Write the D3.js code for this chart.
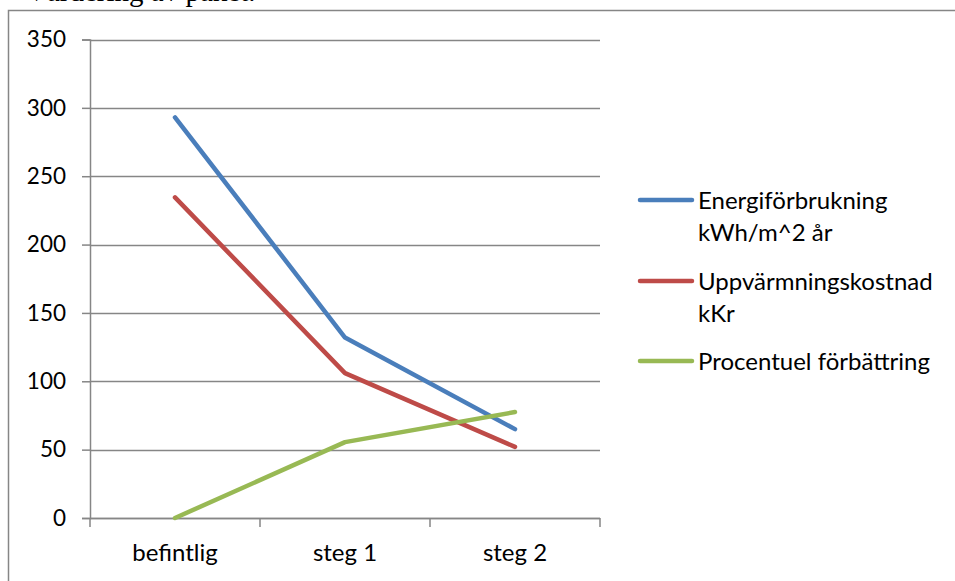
<!DOCTYPE html>
<html>
<head>
<meta charset="utf-8">
<script src="https://cdn.jsdelivr.net/npm/d3@7"></script>
<style>
  html, body { margin: 0; padding: 0; background: #fff; }
  svg { display: block; }
  text { font-family: Lato, "Open Sans", sans-serif; fill: #000; }
</style>
</head>
<body>
<svg id="chart" width="955" height="581"></svg>
<script>
// Stages of the renovation package
const categories = ["befintlig", "steg 1", "steg 2"];

// Series values per stage
const energiValues = [293, 132, 65];
const kostnadValues = [234.5, 106, 52];
const procentValues = [0, 55.5, 77.5];

// Legend labels (wrapped as in the chart)
const seriesNames = [
  ["Energiförbrukning", "kWh/m^2 år"],
  ["Uppvärmningskostnad", "kKr"],
  ["Procentuel förbättring"]
];
const seriesColors = ["#4a7ebb", "#be4b48", "#98b954"];

// Value axis ticks
const yTicks = [0, 50, 100, 150, 200, 250, 300, 350];

const series = [energiValues, kostnadValues, procentValues];

const svg = d3.select("#chart");
const gridColor = "#868686";

// Heading of the surrounding document, mostly clipped at the top edge
svg.append("text")
  .attr("x", 26)
  .attr("y", 1)
  .style("font-family", "'Liberation Serif', 'DejaVu Serif', serif")
  .style("font-size", "29px")
  .text("Värdering av paket.");

// Chart frame (left and top edges)
svg.append("path")
  .attr("d", "M8.5,581 V10.5 H955")
  .attr("fill", "none")
  .attr("stroke", gridColor)
  .attr("stroke-width", 1.5);

const plot = { left: 90, right: 600, top: 39.5, bottom: 518 };

const x = d3.scaleBand()
  .domain(categories)
  .range([plot.left, plot.right])
  .paddingInner(0)
  .paddingOuter(0);

const y = d3.scaleLinear()
  .domain([0, 350])
  .range([plot.bottom, plot.top]);

// Horizontal gridlines
svg.append("g")
  .selectAll("line")
  .data(yTicks)
  .join("line")
  .attr("x1", plot.left)
  .attr("x2", plot.right)
  .attr("y1", d => Math.round(y(d)) + 0.5)
  .attr("y2", d => Math.round(y(d)) + 0.5)
  .attr("stroke", gridColor)
  .attr("stroke-width", 1.5);

// Value axis
const yAxis = svg.append("g")
  .attr("transform", `translate(${plot.left},0)`)
  .call(d3.axisLeft(y).tickValues(yTicks).tickSize(8).tickPadding(16).tickFormat(d3.format("d")));
yAxis.select(".domain").attr("stroke", gridColor).attr("stroke-width", 1.5);
yAxis.selectAll(".tick line").attr("stroke", gridColor).attr("stroke-width", 1.5);
yAxis.selectAll(".tick text")
  .style("font-family", "Lato, 'Open Sans', sans-serif")
  .style("font-size", "22.5px")
  .attr("fill", "#000");

// Category axis with tick marks at band edges
const xAxisG = svg.append("g")
  .attr("transform", `translate(0,${plot.bottom})`);
xAxisG.append("line")
  .attr("x1", plot.left).attr("x2", plot.right)
  .attr("y1", 0.5).attr("y2", 0.5)
  .attr("stroke", gridColor).attr("stroke-width", 1.5);
const edges = categories.map(c => x(c)).concat([x(categories[categories.length - 1]) + x.bandwidth()]);
xAxisG.selectAll("line.edge")
  .data(edges)
  .join("line")
  .attr("class", "edge")
  .attr("x1", d => d).attr("x2", d => d)
  .attr("y1", 0).attr("y2", 9)
  .attr("stroke", gridColor).attr("stroke-width", 1.5);
xAxisG.selectAll("text")
  .data(categories)
  .join("text")
  .attr("x", d => x(d) + x.bandwidth() / 2)
  .attr("y", 43)
  .attr("text-anchor", "middle")
  .style("font-size", "24px")
  .text(d => d);

// Series lines
const line = d3.line()
  .x((d, i) => x(categories[i]) + x.bandwidth() / 2)
  .y(d => y(d));

svg.append("g")
  .selectAll("path")
  .data(series)
  .join("path")
  .attr("d", d => line(d))
  .attr("fill", "none")
  .attr("stroke", (d, i) => seriesColors[i])
  .attr("stroke-width", 4.5)
  .attr("stroke-linecap", "round")
  .attr("stroke-linejoin", "round");

// Legend
const legendRows = [200, 281, 361];
const legend = svg.append("g");
seriesNames.forEach((lines, i) => {
  const g = legend.append("g").attr("transform", `translate(0,${legendRows[i]})`);
  g.append("line")
    .attr("x1", 640).attr("x2", 692)
    .attr("y1", 0).attr("y2", 0)
    .attr("stroke", seriesColors[i])
    .attr("stroke-width", 4.5)
    .attr("stroke-linecap", "round");
  lines.forEach((t, j) => {
    g.append("text")
      .attr("x", 698)
      .attr("y", 9 + j * 32)
      .style("font-size", "24px")
      .text(t);
  });
});
</script>
</body>
</html>
